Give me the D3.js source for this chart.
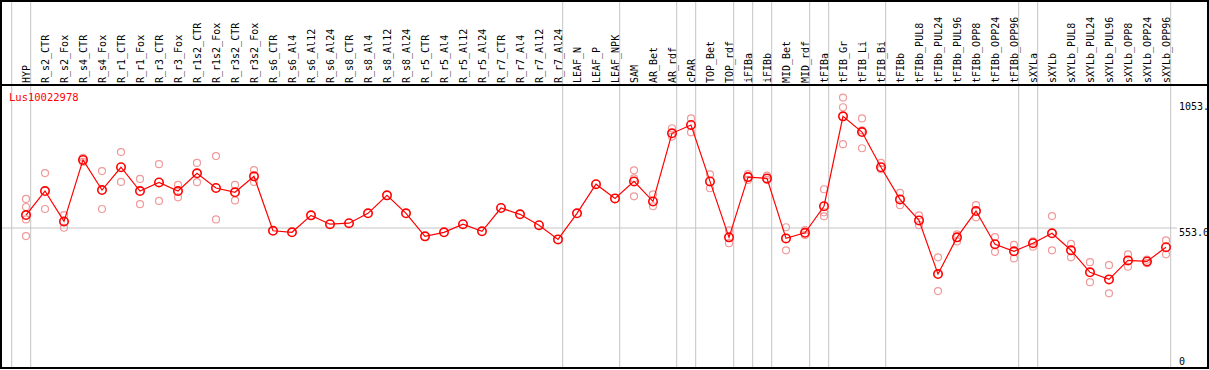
<!DOCTYPE html>
<html>
<head>
<meta charset="utf-8">
<script src="https://cdn.jsdelivr.net/npm/d3@7"></script>
<style>
  body { margin: 0; background: #fff; }
  svg { display: block; }
  text { font-family: "DejaVu Sans Mono", monospace; font-size: 10px; }
</style>
</head>
<body>
<div id="chart"></div>
<script>
const W = 1209, H = 370;

// sample names, one column each
const samples = [
  "HYP", "R_s2_CTR", "R_s2_Fox", "R_s4_CTR", "R_s4_Fox", "R_r1_CTR", "R_r1_Fox",
  "R_r3_CTR", "R_r3_Fox", "R_r1s2_CTR", "R_r1s2_Fox", "R_r3s2_CTR", "R_r3s2_Fox",
  "R_s6_CTR", "R_s6_Al4", "R_s6_Al12", "R_s6_Al24", "R_s8_CTR", "R_s8_Al4",
  "R_s8_Al12", "R_s8_Al24", "R_r5_CTR", "R_r5_Al4", "R_r5_Al12", "R_r5_Al24",
  "R_r7_CTR", "R_r7_Al4", "R_r7_Al12", "R_r7_Al24", "LEAF_N", "LEAF_P", "LEAF_NPK",
  "SAM", "AR_Bet", "AR_rdf", "cPAR", "TOP_Bet", "TOP_rdf", "iFIBa", "iFIBb",
  "MID_Bet", "MID_rdf", "tFIBa", "tFIB_Gr", "tFIB_Li", "tFIB_Bi", "tFIBb",
  "tFIBb_PUL8", "tFIBb_PUL24", "tFIBb_PUL96", "tFIBb_OPP8", "tFIBb_OPP24", "tFIBb_OPP96",
  "sXYLa", "sXYLb", "sXYLb_PUL8", "sXYLb_PUL24", "sXYLb_PUL96", "sXYLb_OPP8",
  "sXYLb_OPP24", "sXYLb_OPP96"
];

// mean expression per sample
const means = [
  604, 699, 579, 822, 703, 793, 699, 733, 699, 769, 711, 694, 757,
  542, 536, 603, 568, 572, 611, 682, 611, 520, 536, 568, 540, 632, 607, 564, 508,
  611, 726, 670, 737, 658, 927, 960, 737, 516, 754, 749, 512, 534, 639,
  994, 932, 793, 666, 583, 371, 516, 620, 489, 461, 493, 532, 465, 378, 350, 425, 421, 477
];

// individual replicates (empty where only the mean is shown)
const replicates = [
  [668, 636, 587, 521], [770, 628], [604, 554], [830, 814], [778, 628], [853, 735],
  [747, 647], [805, 660], [723, 674], [810, 734], [837, 587], [723, 662], [782, 735],
  [], [], [], [], [], [], [], [], [], [], [], [], [], [], [], [],
  [], [], [],
  [781, 749, 678], [686, 639], [947, 914], [986, 931], [765, 710], [544, 493],
  [766, 743], [760, 743], [556, 465], [545, 525], [706, 615, 599],
  [1068, 1030, 884], [986, 939, 868], [810, 785], [692, 643], [603, 564], [437, 304],
  [528, 500], [643, 595], [517, 459], [486, 433], [500, 479], [600, 465], [490, 437],
  [418, 339], [406, 295], [449, 400], [428, 414], [504, 449]
];

// columns after which a group separator is drawn (-1 = before the first)
const groupEnds = [-1, 0, 28, 31, 34, 35, 37, 38, 39, 41, 42, 45, 52, 53, 60];

// value labels on the right
const yLabels = [
  { v: 1053, text: "1053." },
  { v: 553, text: "553.0" },
  { v: 0, text: "0" }
];

const headerY = 85;

const svg = d3.select("#chart").append("svg")
  .attr("width", W)
  .attr("height", H);

svg.append("rect").attr("width", W).attr("height", H).attr("fill", "#fff");

const x = d3.scaleLinear().domain([0, samples.length - 1]).range([26, 1166]);
const y = d3.scaleLinear().domain([0, 553]).range([368, 228]);

// group separators run the full height, header included
svg.append("g").selectAll("line")
  .data(groupEnds)
  .join("line")
  .attr("x1", d => x(d) + 4.7).attr("x2", d => x(d) + 4.7)
  .attr("y1", 0).attr("y2", 368)
  .attr("stroke", "#c4c4c4").attr("stroke-width", 1);

// reference line at 553
svg.append("line")
  .attr("x1", 1).attr("x2", 1177)
  .attr("y1", y(553)).attr("y2", y(553))
  .attr("stroke", "#c4c4c4").attr("stroke-width", 1);

// rotated sample names in the header
svg.append("g").selectAll("text")
  .data(samples)
  .join("text")
  .attr("transform", (d, i) => `translate(${x(i) + 3.5},${headerY - 2}) rotate(-90)`)
  .attr("fill", "#000")
  .text(d => d);

// frame
svg.append("line").attr("x1", 0).attr("x2", W).attr("y1", headerY).attr("y2", headerY)
  .attr("stroke", "#000").attr("stroke-width", 2);
svg.append("rect")
  .attr("x", 1).attr("y", 1).attr("width", 1207).attr("height", 367)
  .attr("fill", "none").attr("stroke", "#000").attr("stroke-width", 2);

// y labels
svg.append("g").selectAll("text")
  .data(yLabels)
  .join("text")
  .attr("x", 1179)
  .attr("y", d => d.v === 0 ? y(0) - 3 : y(d.v) + 1)
  .attr("dominant-baseline", d => d.v === 0 ? "auto" : "hanging")
  .attr("fill", "#000")
  .text(d => d.text);

// gene id
svg.append("text")
  .attr("x", 9).attr("y", 101)
  .attr("fill", "#ff0000")
  .style("font-size", "10.5px")
  .text("Lus10022978");

// replicate points
const reps = [];
replicates.forEach((arr, i) => arr.forEach(v => reps.push({ i, v })));
svg.append("g").selectAll("circle")
  .data(reps)
  .join("circle")
  .attr("cx", d => x(d.i))
  .attr("cy", d => y(d.v))
  .attr("r", 3.5)
  .attr("fill", "none")
  .attr("stroke", "#f09a9a")
  .attr("stroke-width", 1.2);

// mean line + markers
const line = d3.line().x((d, i) => x(i)).y(d => y(d));
svg.append("path")
  .datum(means)
  .attr("d", line)
  .attr("fill", "none")
  .attr("stroke", "#ff0000")
  .attr("stroke-width", 1.2);

svg.append("g").selectAll("circle")
  .data(means)
  .join("circle")
  .attr("cx", (d, i) => x(i))
  .attr("cy", d => y(d))
  .attr("r", 4.2)
  .attr("fill", "none")
  .attr("stroke", "#ff0000")
  .attr("stroke-width", 1.6);
</script>
</body>
</html>
